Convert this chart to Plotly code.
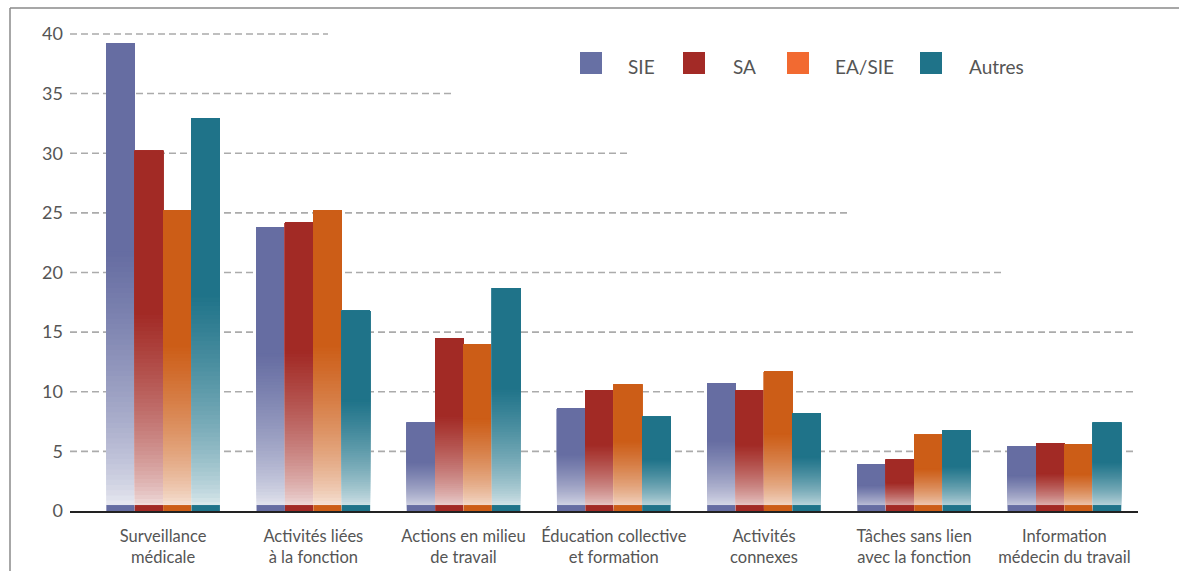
import plotly.graph_objects as go

# ---- data -------------------------------------------------------------
categories = [
    "Surveillance<br>médicale",
    "Activités liées<br>à la fonction",
    "Actions en milieu<br>de travail",
    "Éducation collective<br>et formation",
    "Activités<br>connexes",
    "Tâches sans lien<br>avec la fonction",
    "Information<br>médecin du travail",
]
series_names = ["SIE", "SA", "EA/SIE", "Autres"]
sie = [39.2, 23.8, 7.4, 8.6, 10.7, 3.9, 5.4]
sa = [30.2, 24.2, 14.5, 10.1, 10.1, 4.3, 5.7]
ea_sie = [25.2, 25.2, 14.0, 10.6, 11.7, 6.4, 5.6]
autres = [32.9, 16.8, 18.7, 7.9, 8.2, 6.8, 7.4]
series_values = [sie, sa, ea_sie, autres]
y_ticks = [0, 5, 10, 15, 20, 25, 30, 35, 40]

# ---- styles -----------------------------------------------------------
bar_colors = [(102, 109, 162), (162, 42, 37), (204, 93, 23), (31, 115, 137)]
legend_colors = ["#6770A4", "#A32A26", "#F26A31", "#1F7389"]
TEXT = "#555555"
FONT = "Lato"
N_SEG = 90          # slices used to paint the vertical gradient of each bar
STRIP = 0.5         # solid band at the foot of every bar

# plot area in pixels
W, H = 1179, 571
PL, PR, PT, PB = 70, 1138, 30, 511


def px(x):
    return (x - PL) / (PR - PL)


def py(y):
    return (PB - y) / (PB - PT)


def shade(rgb, t):
    f = min(1.0, max(t, 0.0) / 0.55) ** 0.6
    f = 0.05 + 0.95 * f
    r, g, b = (round(255 + (c - 255) * f) for c in rgb)
    return f"rgb({r},{g},{b})"


fig = go.Figure()

for s, (name, vals, rgb) in enumerate(zip(series_names, series_values, bar_colors)):
    # each slice runs from its own start up to the bar top; later slices
    # paint over the upper part, so no gaps show between slices
    for k in range(N_SEG):
        t = (k + 0.5) / N_SEG
        if t > 0.56:
            # everything above this point is the plain series colour
            t = 1.0
        fig.add_trace(go.Bar(
            x=categories,
            y=[v * (1 - k / N_SEG) for v in vals],
            base=[v * k / N_SEG for v in vals],
            offsetgroup=str(s),
            marker=dict(color=shade(rgb, t), line=dict(width=0)),
            showlegend=False,
            hoverinfo="skip",
        ))
        if t == 1.0:
            break
    fig.add_trace(go.Bar(
        x=categories,
        y=[STRIP] * len(categories),
        base=[0] * len(categories),
        offsetgroup=str(s),
        marker=dict(color="rgb(%d,%d,%d)" % rgb, line=dict(width=0)),
        showlegend=False,
        name=name,
        customdata=vals,
        hovertemplate=name + ": %{customdata}<extra></extra>",
    ))

shapes = []
# dashed reference lines (each ends at its own position)
grid_ends = {40: 328, 35: 453, 30: 630, 25: 851, 20: 1005, 15: 1133, 10: 1133, 5: 1133}
for yv, xe in grid_ends.items():
    shapes.append(dict(
        type="line", xref="paper", yref="y", x0=0, x1=px(xe), y0=yv, y1=yv,
        line=dict(color="#ABABAB", width=1.6, dash="7px,4px"), layer="below",
    ))

# outer frame (top and left edges)
shapes.append(dict(type="line", xref="paper", yref="paper",
                   x0=px(10), x1=px(W + 5), y0=py(8), y1=py(8),
                   line=dict(color="#8A8A8A", width=1.5)))
shapes.append(dict(type="line", xref="paper", yref="paper",
                   x0=px(10), x1=px(10), y0=py(8), y1=py(H + 5),
                   line=dict(color="#8A8A8A", width=1.5)))

# legend
annotations = []
swatch_x = [580, 683, 787, 920]
label_x = [626, 731, 833, 967]
for name, col, sx, lx in zip(series_names, legend_colors, swatch_x, label_x):
    shapes.append(dict(type="rect", xref="paper", yref="paper",
                       x0=px(sx), x1=px(sx + 22), y0=py(74), y1=py(52),
                       fillcolor=col, line=dict(width=0)))
    annotations.append(dict(xref="paper", yref="paper", x=px(lx), y=py(67),
                            text=name, showarrow=False, xanchor="left", yanchor="middle",
                            font=dict(family=FONT, size=19, color=TEXT)))

fig.update_layout(
    width=W, height=H,
    margin=dict(l=PL, r=W - PR, t=PT, b=H - PB),
    paper_bgcolor="white", plot_bgcolor="white",
    barmode="group", bargap=0.244, bargroupgap=0,
    shapes=shapes, annotations=annotations,
    showlegend=False,
    font=dict(family=FONT, color=TEXT),
    xaxis=dict(
        type="category", range=[-0.62, 6.49], showgrid=False, zeroline=False,
        showline=True, linecolor="#222222", linewidth=1.5,
        ticks="", ticklabelstandoff=9, automargin=False,
        tickfont=dict(family=FONT, size=16.5, color=TEXT),
        fixedrange=True,
    ),
    yaxis=dict(
        range=[0, 40.33], tickvals=y_ticks, showgrid=False, zeroline=False,
        showline=False, ticks="", ticklabelstandoff=6, automargin=False,
        tickfont=dict(family=FONT, size=18, color=TEXT), fixedrange=True,
    ),
)

fig.write_html("out.html")
